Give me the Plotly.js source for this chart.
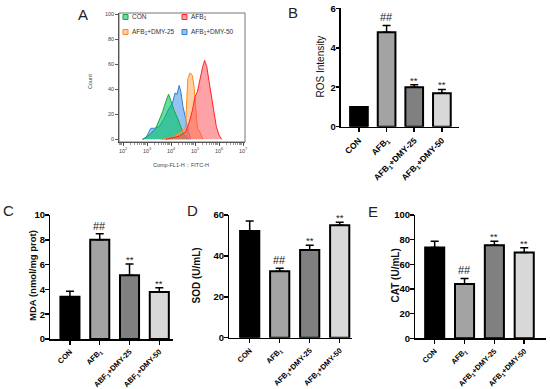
<!DOCTYPE html>
<html>
<head>
<meta charset="utf-8">
<script src="https://cdn.plot.ly/plotly-3.0.1.min.js"></script>
<style>html,body{margin:0;padding:0;background:#fff;}#chart{width:550px;height:389px;}</style>
</head>
<body>
<div id="chart"></div>
<script>
// ---------- Panel A: flow cytometry histograms (intensity, count) ----------
const conX   = [660, 1230, 2340, 3240, 4470, 6030, 7940, 9770, 13500, 18600, 25700, 34700, 56200];
const conY   = [0, 3.4, 8.8, 15, 22, 30, 36, 31, 23, 17, 9, 3.4, 0];
const dmy50X = [630, 890, 1450, 2000, 3160, 5010, 7940, 11500, 14800, 17800, 21900, 25700, 31600, 40700, 53700, 66100];
const dmy50Y = [0, 1, 8.8, 8.8, 10, 16, 24, 29, 37, 36, 43, 38, 26, 15, 6, 0];
const dmy25X = [3980, 10000, 25700, 35500, 39800, 44700, 50100, 61700, 77600, 91200, 100000, 112000, 126000, 158000, 209000];
const dmy25Y = [0, 1, 6, 8, 10, 30, 48, 53, 51, 42, 30, 15, 9, 6, 0];
const afbX   = [6030, 21900, 40700, 56200, 77600, 100000, 126000, 155000, 204000, 251000, 309000, 380000, 490000, 617000, 776000, 1000000, 1290000];
const afbY   = [0, 2.5, 6, 13, 23, 34, 38, 47, 57, 63, 58, 47, 34, 21, 10, 3.4, 0];
const histLegend = ['CON', 'AFB<sub>1</sub>', 'AFB<sub>1</sub>+DMY-25', 'AFB<sub>1</sub>+DMY-50'];
const logTickVals = [1e2, 1e3, 1e4, 1e5, 1e6, 1e7];
const logTickText = ['10<sup>2</sup>', '10<sup>3</sup>', '10<sup>4</sup>', '10<sup>5</sup>', '10<sup>6</sup>', '10<sup>7</sup>'];
const countTicks = [0, 20, 40, 60, 80, 100];

// ---------- Bar panels ----------
const groups  = ['CON', 'AFB<sub>1</sub>', 'AFB<sub>1</sub>+DMY-25', 'AFB<sub>1</sub>+DMY-50'];
const groupsC = ['CON', 'AFB<sub>1</sub>', 'ABF<sub>1</sub>+DMY-25', 'ABF<sub>1</sub>+DMY-50'];
const rosVal = [1.0, 4.79, 2.0, 1.69];
const rosErr = [0, 0.34, 0.12, 0.2];
const rosSig = ['', '##', '**', '**'];
const mdaVal = [3.4, 8.0, 5.15, 3.8];
const mdaErr = [0.46, 0.48, 0.89, 0.33];
const mdaSig = ['', '##', '**', '**'];
const sodVal = [52.2, 32.5, 42.9, 55.0];
const sodErr = [4.9, 1.5, 2.3, 1.4];
const sodSig = ['', '##', '**', '**'];
const catVal = [73.7, 44.0, 75.5, 69.6];
const catErr = [5.1, 4.6, 3.3, 3.8];
const catSig = ['', '##', '**', '**'];

const W = 550, H = 389;
const px = x => x / W;
const py = y => 1 - y / H;
const FONT = 'Liberation Sans, Arial, sans-serif';
const barColors = ['#000000', '#a3a3a3', '#808080', '#d8d8d8'];

const traces = [];
function hist(x, y, line, fill) {
  traces.push({type: 'scatter', mode: 'lines', x: x, y: y, xaxis: 'x', yaxis: 'y',
    fill: 'tozeroy', fillcolor: fill, line: {color: line, width: 1}, showlegend: false, hoverinfo: 'skip'});
}
hist(dmy50X, dmy50Y, '#2e7fd8', 'rgba(60,145,230,0.55)');
hist(conX, conY, '#19a83f', 'rgba(0,195,100,0.6)');
hist(dmy25X, dmy25Y, '#ff8a1c', 'rgba(255,160,70,0.5)');
hist(afbX, afbY, '#ff2424', 'rgba(255,70,80,0.5)');

function bars(cats, vals, errs, ax) {
  traces.push({type: 'bar', x: cats, y: vals, xaxis: 'x' + ax, yaxis: 'y' + ax, width: 0.64,
    marker: {color: barColors, line: {color: '#000', width: 2}},
    error_y: {type: 'data', symmetric: false, array: errs, arrayminus: errs.map(() => 0),
      color: '#000', thickness: 1.5, width: 4},
    showlegend: false, hoverinfo: 'skip'});
}
bars(groups, rosVal, rosErr, 2);
bars(groupsC, mdaVal, mdaErr, 3);
bars(groups, sodVal, sodErr, 4);
bars(groups, catVal, catErr, 5);

const annotations = [];
function sig(cats, vals, errs, marks, ax) {
  marks.forEach((m, i) => {
    if (!m) return;
    annotations.push({xref: 'x' + ax, yref: 'y' + ax, x: cats[i], y: vals[i] + errs[i], text: m,
      showarrow: false, yanchor: 'bottom', yshift: m === '##' ? 0 : -3,
      font: {family: FONT, size: m === '##' ? 11 : 9.5, color: '#222'}});
  });
}
sig(groups, rosVal, rosErr, rosSig, 2);
sig(groupsC, mdaVal, mdaErr, mdaSig, 3);
sig(groups, sodVal, sodErr, sodSig, 4);
sig(groups, catVal, catErr, catSig, 5);

function label(text, x, y, font, opts) {
  annotations.push(Object.assign({xref: 'paper', yref: 'paper', x: px(x), y: py(y), text: text,
    showarrow: false, xanchor: 'center', yanchor: 'middle', font: font}, opts || {}));
}
const letterFont = {family: FONT, size: 15, color: '#222'};
label('A', 82.5, 14, letterFont);
label('B', 293, 13, letterFont);
label('C', 8.5, 210, letterFont);
label('D', 192.5, 210, letterFont);
label('E', 372.5, 211, letterFont);
const tinyFont = {family: FONT, size: 5.5, color: '#444'};
label('Count', 90, 82, tinyFont, {textangle: -90});
label('Comp-FL1-H :: FITC-H', 181, 165, tinyFont);
label('ROS Intensity', 319.5, 67, {family: FONT, size: 10, color: '#111'}, {textangle: -90});
label('MDA (nmol/mg prot)', 32, 276, {family: FONT, size: 9.5, color: '#111', weight: 'bold'}, {textangle: -90});
label('SOD (U/mL)', 195.5, 276, {family: FONT, size: 10, color: '#111', weight: 'bold'}, {textangle: -90});
label('CAT (U/mL)', 394.5, 276, {family: FONT, size: 10, color: '#111', weight: 'bold'}, {textangle: -90});
// panel A count tick labels, placed on the count scale
countTicks.forEach(v => {
  annotations.push({xref: 'paper', yref: 'y', x: px(115.5), y: v, text: String(v), showarrow: false,
    xanchor: 'right', yanchor: 'middle', font: {family: FONT, size: 5.5, color: '#444'}});
});

// legend of panel A
const legColors = [['#19a83f', 'rgba(0,195,100,0.6)'], ['#ff2424', 'rgba(255,70,80,0.5)'],
                   ['#ff8a1c', 'rgba(255,160,70,0.5)'], ['#2e7fd8', 'rgba(60,145,230,0.55)']];
const legPos = [[123, 17], [182, 17], [123, 32], [182, 32]];
const shapes = [];
histLegend.forEach((t, i) => {
  const [lx, ly] = legPos[i];
  shapes.push({type: 'rect', xref: 'paper', yref: 'paper', x0: px(lx), x1: px(lx + 5), y0: py(ly + 2.5), y1: py(ly - 2.5),
    line: {color: legColors[i][0], width: 1}, fillcolor: legColors[i][1]});
  annotations.push({xref: 'paper', yref: 'paper', x: px(lx + 6.5), y: py(ly), text: t, showarrow: false,
    xanchor: 'left', yanchor: 'middle', font: {family: FONT, size: 6.5, color: '#333'}});
});
// frame around panel A plot area
shapes.push({type: 'rect', xref: 'paper', yref: 'paper', x0: px(119), x1: px(245), y0: py(142), y1: py(13),
  line: {color: '#777', width: 1}, fillcolor: 'rgba(0,0,0,0)', layer: 'above'});

function barX(dom, range, anchor, fs) {
  return {domain: [px(dom[0]), px(dom[1])], range: range, type: 'category', anchor: anchor,
    showline: true, linecolor: '#000', linewidth: 1.5, ticks: 'outside', ticklen: 4, tickwidth: 1.5, tickcolor: '#000',
    tickangle: -45, tickfont: {family: FONT, size: fs, color: '#000', weight: 'bold'}, showgrid: false, zeroline: false, fixedrange: true};
}
function barY(dom, range, dtick, anchor) {
  return {domain: [py(dom[1]), py(dom[0])], range: range, dtick: dtick, tick0: 0, anchor: anchor,
    showline: true, linecolor: '#000', linewidth: 1.5, ticks: 'outside', ticklen: 3.5, tickwidth: 1.5, tickcolor: '#000',
    ticklabelstandoff: -2,
    tickfont: {family: FONT, size: 9.5, color: '#000', weight: 'bold'}, showgrid: false, zeroline: false, fixedrange: true};
}

const layout = {
  width: W, height: H, margin: {l: 0, r: 0, t: 0, b: 0}, paper_bgcolor: '#fff', plot_bgcolor: 'rgba(0,0,0,0)',
  showlegend: false, bargap: 0, font: {family: FONT},
  xaxis: {domain: [px(119), px(245)], type: 'log', range: [1.833, 7.083], anchor: 'y',
    tickmode: 'array', tickvals: logTickVals, ticktext: logTickText,
    showline: true, linecolor: '#333', linewidth: 1,
    ticks: 'outside', ticklen: 3, tickwidth: 0.8, tickcolor: '#333',
    minor: {tickmode: 'linear', dtick: 'D1', ticks: 'outside', ticklen: 1.5, tickwidth: 0.6, tickcolor: '#555'},
    tickfont: {family: FONT, size: 5.5, color: '#444'}, showgrid: false, zeroline: false},
  yaxis: {domain: [py(142), py(13)], range: [-2.15, 100.8], anchor: 'x', side: 'left',
    tickmode: 'array', tickvals: countTicks, showticklabels: false,
    showline: true, linecolor: '#333', linewidth: 1,
    ticks: 'outside', ticklen: 3, tickwidth: 0.8, tickcolor: '#333',
    showgrid: false, zeroline: false},
  xaxis2: barX([340.7, 459.3], [-0.66, 3.63], 'y2', 8.5),
  yaxis2: barY([8.3, 126.7], [0, 6], 2, 'x2'),
  xaxis3: barX([50, 173], [-0.67, 3.46], 'y3', 7.5),
  yaxis3: barY([215, 339], [0, 10], 2, 'x3'),
  xaxis4: barX([229, 352], [-0.69, 3.41], 'y4', 7.5),
  yaxis4: barY([215, 337.7], [0, 60], 20, 'x4'),
  xaxis5: barX([415, 546], [-0.66, 3.73], 'y5', 7.5),
  yaxis5: barY([215, 338.3], [0, 100], 20, 'x5'),
  annotations: annotations,
  shapes: shapes
};

Plotly.newPlot('chart', traces, layout, {staticPlot: true, displayModeBar: false});
</script>
</body>
</html>
